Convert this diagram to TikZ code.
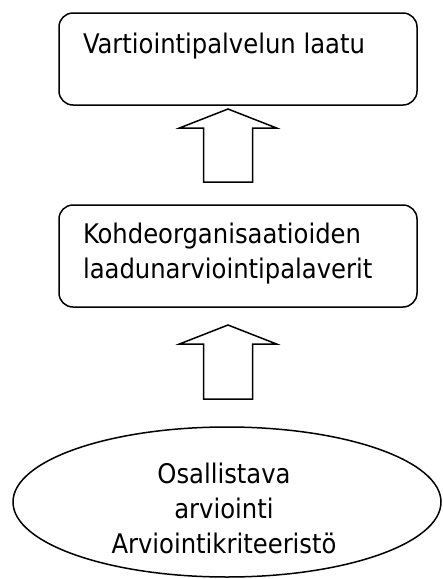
\documentclass[tikz,border=0pt]{standalone}
\usepackage{fontspec}
\setmainfont{DejaVu Sans Condensed}
\usetikzlibrary{positioning,shapes.geometric}
\begin{document}
\begin{tikzpicture}[x=1pt, y=-1pt,
    every node/.style={inner sep=0pt, outer sep=0pt},
    stagebox/.style={draw, line width=1.5pt, rounded corners=14pt,
      minimum width=358pt, anchor=north west},
    boxtext/.style={font=\fontsize{27}{35}\selectfont, align=left, anchor=base west},
    ovaltext/.style={font=\fontsize{27}{35}\selectfont, align=center, anchor=base},
    sourceoval/.style={draw, line width=1.5pt, ellipse, minimum width=428pt, minimum height=150pt},
    blockarrow/.style={draw, line width=1.5pt, line join=miter, fill=white},
  ]
  \useasboundingbox (0,0) rectangle (443,579);

  % top stage: service quality
  \node[stagebox, minimum height=92pt] (quality) at (59,13) {};
  \node[boxtext] (qualitytext) at (83,53) {Vartiointipalvelun laatu};

  % middle stage: quality review meetings (base = last line)
  \node[stagebox, minimum height=102pt] (meetings) at (59,205) {};
  \node[boxtext] (meetingstext) at (83,278) {Kohdeorganisaatioiden\\laadunarviointipalaverit};

  % bottom: participatory evaluation (base = last line)
  \node[sourceoval] (evaluation) at (227,502) {};
  \node[ovaltext] (evaluationtext) at (224,553) {Osallistava\\arviointi\\Arviointikriteeristö};

  % hollow block arrows between the stages
  \coordinate (arrowA) at (228,109);
  \coordinate (arrowB) at (228,325);
  \foreach \tip/\len in {arrowA/73, arrowB/74} {
    \draw[blockarrow] (\tip) -- ++(48.5,19) -- ++(-24,0) -- ++(0,\len-19)
      -- ++(-49,0) -- ++(0,19-\len) -- ++(-24,0) -- cycle;
  }
\end{tikzpicture}
\end{document}
